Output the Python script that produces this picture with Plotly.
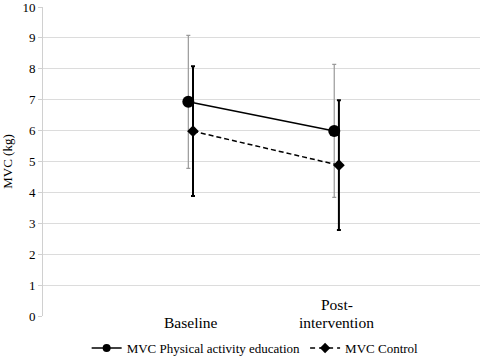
import plotly.graph_objects as go

categories = ["Baseline", "Post-<br>intervention"]
cat_pos = [0, 1]
series_names = ["MVC Physical activity education", "MVC Control"]
phys_mean = [6.93, 5.99]
phys_err = [2.15, 2.15]
ctrl_mean = [5.98, 4.88]
ctrl_err = [2.1, 2.1]
y_ticks = list(range(0, 11))

off = 0.016
FONT = "'Liberation Serif', 'Times New Roman', serif"
M_TOP, M_BOT, H = 7, 44, 360
PLOT_H = H - M_TOP - M_BOT

fig = go.Figure()
fig.add_trace(go.Scatter(
    x=[c - off for c in cat_pos], y=phys_mean, name=series_names[0], showlegend=False,
    mode="lines+markers",
    line=dict(color="black", width=1.5),
    marker=dict(symbol="circle", size=12, color="black"),
    error_y=dict(type="data", array=phys_err, visible=True, color="#9a9a9a", thickness=1.2, width=2),
))
fig.add_trace(go.Scatter(
    x=[c + off for c in cat_pos], y=ctrl_mean, name=series_names[1], showlegend=False,
    mode="lines+markers",
    line=dict(color="black", width=1.5, dash="5px,3px"),
    marker=dict(symbol="diamond", size=9, color="black"),
    error_y=dict(type="data", array=ctrl_err, visible=True, color="black", thickness=2, width=2),
))
# legend entries (smaller symbols, as in the original legend)
fig.add_trace(go.Scatter(x=[None], y=[None], name=series_names[0], mode="lines+markers",
                         line=dict(color="black", width=1.5),
                         marker=dict(symbol="circle", size=8, color="black")))
fig.add_trace(go.Scatter(x=[None], y=[None], name=series_names[1], mode="lines+markers",
                         line=dict(color="black", width=1.5, dash="5px,4px"),
                         marker=dict(symbol="diamond", size=8, color="black")))

# category labels, bottom-aligned like the original
for c, lab in zip(cat_pos, categories):
    lines = lab.split("<br>")
    n = len(lines)
    for i, ln in enumerate(lines):
        ypx = 322.5 - 18 * (n - 1 - i)
        fig.add_annotation(x=c, y=(H - M_BOT - ypx) / PLOT_H, xref="x", yref="paper", text=ln,
                           showarrow=False, yanchor="middle", xanchor="center",
                           font=dict(family=FONT, size=15.5, color="black"))

fig.update_layout(
    width=486, height=H,
    margin=dict(l=43, r=6, t=M_TOP, b=M_BOT, autoexpand=False),
    paper_bgcolor="white", plot_bgcolor="white",
    font=dict(family=FONT, size=13, color="black"),
    showlegend=True,
    legend=dict(orientation="h", x=0.525, xanchor="center", xref="container",
                y=0.033, yanchor="middle", yref="container", tracegroupgap=0,
                font=dict(family=FONT, size=13, color="black"), itemwidth=30),
    xaxis=dict(range=[-1.012, 1.983], showgrid=False, zeroline=False, showticklabels=False,
               showline=False, ticks="", automargin=False),
    yaxis=dict(range=[0, 10], tickvals=y_ticks, showgrid=True, gridcolor="#dcdcdc", gridwidth=1,
               zeroline=False, showline=True, linecolor="#d0d0d0", linewidth=1,
               ticks="outside", ticklen=4, tickcolor="#d0d0d0", automargin=False,
               ticklabeloverflow="allow",
               tickfont=dict(family=FONT, size=13, color="black"),
               title=dict(text="MVC (kg)", font=dict(family=FONT, size=13, color="black"), standoff=7)),
)

fig.write_html("out.html", config={"displayModeBar": False},
               post_script="document.body.style.margin='0';document.body.style.padding='0';")
